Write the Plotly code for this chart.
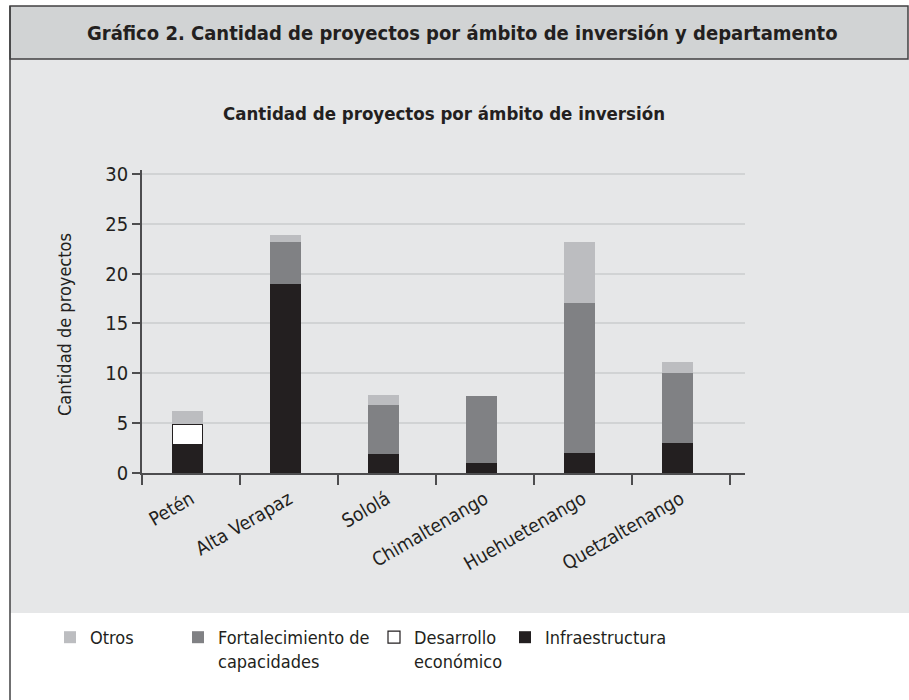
import plotly.graph_objects as go

# ---------------- data ----------------
departamentos = ["Petén", "Alta Verapaz", "Sololá", "Chimaltenango", "Huehuetenango", "Quetzaltenango"]
infraestructura = [2.8, 19.0, 1.9, 1.0, 2.0, 3.0]
desarrollo = [2.1, None, None, None, None, None]
fortalecimiento = [None, 4.15, 4.9, 6.7, 15.1, 7.0]
otros = [1.35, 0.77, 1.0, None, 6.1, 1.1]
y_ticks = [0, 5, 10, 15, 20, 25, 30]

# ---------------- style ----------------
W, H = 909, 700
L, R, T, B = 142, 164, 170, 227
PW, PH = W - L - R, H - T - B
FONT = "DejaVu Sans Condensed, Liberation Sans Narrow, sans-serif"
TXT = "#231f20"
AX = "#4d4d4f"
C_INF, C_DES, C_FOR, C_OTR = "#231f20", "#ffffff", "#808184", "#bcbdc0"


def xp(px):
    return (px - L) / PW


def yp(py):
    return (H - B - py) / PH


BW = 0.31
OFF = -0.19

fig = go.Figure()
fig.add_trace(go.Bar(x=departamentos, y=infraestructura, name="Infraestructura",
                     marker=dict(color=C_INF, line=dict(width=0)), width=BW, offset=OFF,
                     legend="legend4", showlegend=True))
fig.add_trace(go.Bar(x=departamentos, y=desarrollo, name="Desarrollo<br>económico",
                     marker=dict(color=C_DES, line=dict(width=1.2, color="#231f20")), width=BW, offset=OFF,
                     legend="legend3", showlegend=True))
fig.add_trace(go.Bar(x=departamentos, y=fortalecimiento, name="Fortalecimiento de<br>capacidades",
                     marker=dict(color=C_FOR, line=dict(width=0)), width=BW, offset=OFF,
                     legend="legend2", showlegend=True))
fig.add_trace(go.Bar(x=departamentos, y=otros, name="Otros",
                     marker=dict(color=C_OTR, line=dict(width=0)), width=BW, offset=OFF,
                     legend="legend", showlegend=True))

shapes = [
    # light panel
    dict(type="rect", xref="paper", yref="paper", x0=xp(10), x1=xp(909), y0=yp(613), y1=yp(59),
         fillcolor="#e6e7e8", line=dict(width=0), layer="below"),
    # title band
    dict(type="rect", xref="paper", yref="paper", x0=xp(10), x1=xp(908), y0=yp(59), y1=yp(6),
         fillcolor="#d1d3d4", line=dict(width=1.5, color="#414042"), layer="below"),
    # left border
    dict(type="line", xref="paper", yref="paper", x0=xp(10), x1=xp(10), y0=yp(700), y1=yp(6),
         line=dict(width=1.5, color="#414042"), layer="below"),
]

annotations = [
    dict(text="<b>Gráfico 2. Cantidad de proyectos por ámbito de inversión y departamento</b>",
         xref="paper", yref="paper", x=xp(462), y=yp(33), xanchor="center", yanchor="middle",
         showarrow=False, font=dict(family=FONT, size=20, color=TXT)),
    dict(text="<b>Cantidad de proyectos por ámbito de inversión</b>",
         xref="paper", yref="paper", x=xp(444), y=yp(113), xanchor="center", yanchor="middle",
         showarrow=False, font=dict(family=FONT, size=18.5, color=TXT)),
    dict(text="Cantidad de proyectos", textangle=-90,
         xref="paper", yref="paper", x=xp(64), y=yp(325), xanchor="center", yanchor="middle",
         showarrow=False, font=dict(family=FONT, size=18, color=TXT)),
]

leg_common = dict(orientation="v", xref="container", yref="container", xanchor="left", yanchor="top",
                  bgcolor="rgba(0,0,0,0)", borderwidth=0, valign="top",
                  font=dict(family=FONT, size=18, color=TXT), itemclick=False, itemdoubleclick=False)
leg_top = 1 - 619 / H

fig.update_layout(
    width=W, height=H,
    margin=dict(l=L, r=R, t=T, b=B, autoexpand=False),
    paper_bgcolor="white",
    plot_bgcolor="rgba(0,0,0,0)",
    barmode="stack",
    showlegend=True,
    font=dict(family=FONT, color=TXT),
    shapes=shapes,
    annotations=annotations,
    legend=dict(x=50 / W, y=leg_top, **leg_common),
    legend2=dict(x=178 / W, y=leg_top, **leg_common),
    legend3=dict(x=374 / W, y=leg_top, **leg_common),
    legend4=dict(x=505 / W, y=leg_top, **leg_common),
    xaxis=dict(
        type="category",
        range=[-0.5, 5.656],
        tickson="boundaries",
        ticks="outside", ticklen=10, tickwidth=1.5, tickcolor=AX,
        showline=True, linecolor=AX, linewidth=1.5,
        showgrid=False, zeroline=False,
        tickangle=-30,
        ticklabelstandoff=6,
        tickfont=dict(family=FONT, size=19, color=TXT),
    ),
    yaxis=dict(
        range=[0, 30.4],
        tickvals=y_ticks,
        ticks="outside", ticklen=8, tickwidth=1.5, tickcolor=AX,
        showline=True, linecolor=AX, linewidth=1.5,
        showgrid=True, gridcolor="#d1d3d4", gridwidth=2,
        zeroline=False,
        tickfont=dict(family=FONT, size=20, color=TXT),
    ),
)

fig.write_html("out.html", config={"displayModeBar": False},
               post_script="document.body.style.margin='0px';")
